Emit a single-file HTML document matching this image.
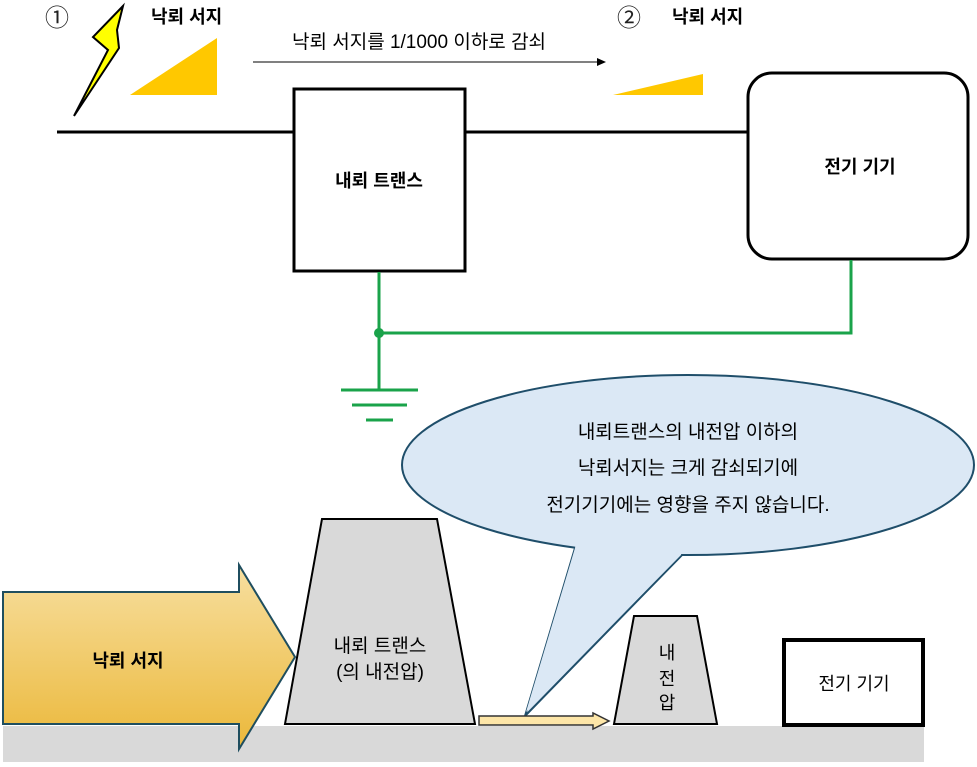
<!DOCTYPE html>
<html><head><meta charset="utf-8"><style>
body{margin:0;width:977px;height:762px;background:#fff;overflow:hidden}
svg text{font-family:"Liberation Sans","Noto Sans CJK KR",sans-serif}
</style></head><body>
<svg width="977" height="762" viewBox="0 0 977 762" xmlns="http://www.w3.org/2000/svg">
<defs>
<linearGradient id="g" x1="0" y1="0" x2="0" y2="1"><stop offset="0" stop-color="#f7dfa0"/><stop offset="1" stop-color="#ebb83a"/></linearGradient>
</defs>
<text x="45" y="26" font-size="24" fill="#222">①</text>
<polygon points="123,6 93,37 108,50 74,116 119,48 117,30" fill="#ffff00" stroke="#000" stroke-width="2"/>
<text x="151" y="23" font-size="18" font-weight="bold">낙뢰 서지</text>
<polygon points="130,95 217,38 217,95" fill="#ffc800"/>
<text x="292" y="48" font-size="19">낙뢰 서지를 1/1000 이하로 감쇠</text>
<line x1="253" y1="62" x2="598" y2="62" stroke="#000" stroke-width="1"/>
<polygon points="597,58 606,62 597,66" fill="#000"/>
<text x="617" y="26" font-size="24" fill="#222">②</text>
<text x="672" y="23" font-size="18" font-weight="bold">낙뢰 서지</text>
<polygon points="613,95 703,74 703,95" fill="#ffc800"/>
<line x1="57" y1="132" x2="294" y2="132" stroke="#000" stroke-width="3"/>
<line x1="465" y1="132" x2="748" y2="132" stroke="#000" stroke-width="3"/>
<rect x="294" y="89" width="171" height="182" fill="#fff" stroke="#000" stroke-width="3"/>
<text x="379" y="187" font-size="18" font-weight="bold" text-anchor="middle">내뢰 트랜스</text>
<rect x="748" y="73" width="220" height="186" rx="24" fill="#fff" stroke="#000" stroke-width="3"/>
<text x="860" y="173" font-size="18" font-weight="bold" text-anchor="middle">전기 기기</text>
<g stroke="#1aa34a" stroke-width="3" fill="none">
<polyline points="379,272 379,333 851,333 851,260"/>
<line x1="379" y1="333" x2="379" y2="390"/>
</g>
<circle cx="379" cy="333" r="5" fill="#1aa34a"/>
<g stroke="#1aa34a" stroke-width="3">
<line x1="341" y1="390" x2="418" y2="390"/><line x1="352" y1="405" x2="407" y2="405"/><line x1="366" y1="420" x2="393" y2="420"/>
</g>
<rect x="3" y="726" width="921" height="36" fill="#d9d9d9"/>
<polygon points="3,592 239,592 239,565 295,657 239,749 239,724 3,724" fill="url(#g)" stroke="#1f4e5f" stroke-width="2"/>
<text x="128" y="667" font-size="18" font-weight="bold" text-anchor="middle">낙뢰 서지</text>
<polygon points="322,519 437,519 475,724 285,724" fill="#d9d9d9" stroke="#000" stroke-width="2"/>
<text x="380" y="652" font-size="19" text-anchor="middle">내뢰 트랜스</text>
<text x="380" y="678" font-size="19" text-anchor="middle">(의 내전압)</text>
<ellipse cx="688" cy="465" rx="286" ry="90" fill="#dbe8f5" stroke="#1f4e6a" stroke-width="2"/>
<polyline points="575,548 525,716 682,555" fill="#dbe8f5" stroke="#1f4e6a" stroke-width="2"/>
<polygon points="576,543 575,548 526,712 681,555 682,550" fill="#dbe8f5"/>
<text x="688" y="438" font-size="19" text-anchor="middle">내뢰트랜스의 내전압 이하의</text>
<text x="688" y="474" font-size="19" text-anchor="middle">낙뢰서지는 크게 감쇠되기에</text>
<text x="688" y="511" font-size="19" text-anchor="middle">전기기기에는 영향을 주지 않습니다.</text>
<polygon points="479,716 593,716 593,713 609,721 593,729 593,725 479,725" fill="#fde6a8" stroke="#333" stroke-width="1.5"/>
<polygon points="634,616 697,616 717,724 614,724" fill="#d9d9d9" stroke="#000" stroke-width="2"/>
<text x="667" y="659" font-size="18" text-anchor="middle">내</text>
<text x="667" y="685" font-size="18" text-anchor="middle">전</text>
<text x="667" y="709" font-size="18" text-anchor="middle">압</text>
<rect x="784" y="640" width="139" height="85" fill="#fff" stroke="#000" stroke-width="4"/>
<text x="854" y="690" font-size="18" text-anchor="middle">전기 기기</text>
</svg>
</body></html>
